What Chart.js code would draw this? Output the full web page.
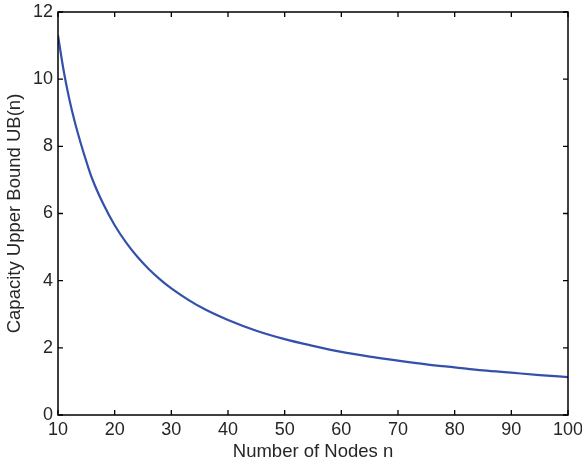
<!DOCTYPE html>
<html>
<head>
<meta charset="utf-8">
<script src="https://cdn.jsdelivr.net/npm/chart.js@4"></script>
<style>
html,body{margin:0;padding:0;background:#fff;}
#wrap{width:582px;height:464px;position:relative;}
</style>
</head>
<body>
<div id="wrap"><canvas id="c" width="582" height="464"></canvas></div>
<script>
const nodes = [10,11,12,13,14,15,16,18,20,22,24,26,28,30,33,36,40,45,50,55,60,65,70,75,80,85,90,95,100];
const upperBound = [11.3,10.25,9.4,8.7,8.1,7.55,7.05,6.28,5.65,5.14,4.71,4.35,4.04,3.77,3.43,3.14,2.83,2.51,2.26,2.06,1.88,1.74,1.62,1.51,1.42,1.33,1.26,1.19,1.13];
const xTicks = [10,20,30,40,50,60,70,80,90,100];
const yTicks = [0,2,4,6,8,10,12];
const xTitle = 'Number of Nodes n';
const yTitle = 'Capacity Upper Bound UB(n)';

const FONT = '"Liberation Sans", Arial, Helvetica, sans-serif';

const frame = {
  id: 'frame',
  afterDraw(chart) {
    const {ctx, chartArea: a, scales: {x, y}} = chart;
    ctx.save();
    ctx.strokeStyle = '#000';
    ctx.lineWidth = 1.3;
    const L = 5;
    ctx.beginPath();
    xTicks.forEach(v => {
      const px = x.getPixelForValue(v);
      ctx.moveTo(px, a.bottom); ctx.lineTo(px, a.bottom - L);
      ctx.moveTo(px, a.top); ctx.lineTo(px, a.top + L);
    });
    yTicks.forEach(v => {
      const py = y.getPixelForValue(v);
      ctx.moveTo(a.left, py); ctx.lineTo(a.left + L, py);
      ctx.moveTo(a.right, py); ctx.lineTo(a.right - L, py);
    });
    ctx.stroke();
    ctx.lineWidth = 1.5;
    ctx.strokeRect(a.left, a.top, a.right - a.left, a.bottom - a.top);
    ctx.restore();
  }
};

new Chart(document.getElementById('c'), {
  type: 'line',
  data: {
    datasets: [{
      data: nodes.map((n, i) => ({x: n, y: upperBound[i]})),
      borderColor: '#3350aa',
      borderWidth: 2.2,
      pointRadius: 0,
      cubicInterpolationMode: 'monotone',
      fill: false
    }]
  },
  options: {
    responsive: false,
    animation: false,
    events: [],
    layout: {padding: {top: 12, right: 14, left: 0, bottom: 0}},
    plugins: {legend: {display: false}, tooltip: {enabled: false}},
    scales: {
      x: {
        type: 'linear', min: 10, max: 100,
        afterBuildTicks: s => { s.ticks = xTicks.map(v => ({value: v})); },
        afterFit: s => { s.height = 49; s.paddingLeft = 0; s.paddingRight = 0; },
        grid: {display: false, drawTicks: false},
        border: {display: false},
        ticks: {padding: 4, color: '#262626', font: {family: FONT, size: 18}, maxRotation: 0},
        title: {display: true, text: xTitle, color: '#262626', font: {family: FONT, size: 18.5}, padding: {top: 0, bottom: 1}}
      },
      y: {
        type: 'linear', min: 0, max: 12,
        afterBuildTicks: s => { s.ticks = yTicks.map(v => ({value: v})); },
        afterFit: s => { s.width = 58; s.paddingTop = 0; s.paddingBottom = 0; },
        grid: {display: false, drawTicks: false},
        border: {display: false},
        ticks: {padding: 5, color: '#262626', font: {family: FONT, size: 18}},
        title: {display: true, text: yTitle, color: '#262626', font: {family: FONT, size: 18.5}, padding: {top: 4, bottom: 0}}
      }
    }
  },
  plugins: [frame]
});
</script>
</body>
</html>
